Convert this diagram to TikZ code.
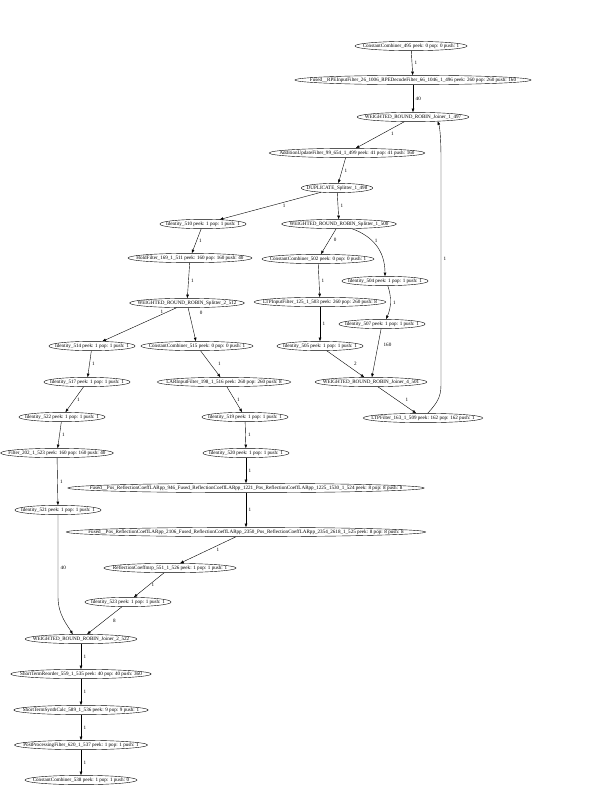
\documentclass[tikz,border=0pt]{standalone}
\usepackage{fontspec}
\setmainfont{Liberation Serif}
\usetikzlibrary{shapes.geometric,arrows.meta}
\newbox\gvbox
\newcommand\gvsize{\fontsize{5.1pt}{6pt}\selectfont}

\begin{document}
\begin{tikzpicture}[x=1pt, y=-1pt,
    blob/.style={draw, ellipse, line width=0.4pt, inner xsep=1pt, inner ysep=0.95pt,
        text height=3.5pt, text depth=1.2pt, font=\gvsize,
        execute at begin node={\setbox\gvbox=\hbox\bgroup},
        execute at end node={\egroup\hbox to 0.8\wd\gvbox{\hss\box\gvbox\hss}}},
    flow/.style={-{Triangle[length=3.5pt,width=2.6pt]}, line width=0.4pt},
    lab/.style={right, inner sep=2.5pt, font=\gvsize}]
    \useasboundingbox (0,0) rectangle (612,792);

    % top of the graph
    \node [blob] (cc495) at (411,46) {ConstantCombiner\_495 peek: 0 pop: 0 push: 1};
    \node [blob] (fu496) at (413,80) {Fused\_\_RPEInputFilter\_26\_1006\_RPEDecodeFilter\_66\_1046\_1\_496 peek: 260 pop: 260 push: 160};
    \node [blob] (wj497) at (413,117) {WEIGHTED\_ROUND\_ROBIN\_Joiner\_1\_497};
    \node [blob] (au499) at (347,153) {AdditionUpdateFilter\_99\_654\_1\_499 peek: 41 pop: 41 push: 160};
    \node [blob] (ds498) at (337,188) {DUPLICATE\_Splitter\_1\_498};
    \node [blob] (id510) at (203,224) {Identity\_510 peek: 1 pop: 1 push: 1};
    \node [blob] (ws500) at (339,224) {WEIGHTED\_ROUND\_ROBIN\_Splitter\_1\_500};
    \node [blob] (hf511) at (190,258) {HoldFilter\_169\_1\_511 peek: 160 pop: 160 push: 40};
    \node [blob] (cc502) at (318,259) {ConstantCombiner\_502 peek: 0 pop: 0 push: 1};
    \node [blob] (id504) at (385,281) {Identity\_504 peek: 1 pop: 1 push: 1};
    \node [blob] (lt503) at (320,302) {LTPInputFilter\_125\_1\_503 peek: 260 pop: 260 push: 8};
    \node [blob] (ws512) at (187,303) {WEIGHTED\_ROUND\_ROBIN\_Splitter\_2\_512};
    \node [blob] (id507) at (382,324) {Identity\_507 peek: 1 pop: 1 push: 1};
    \node [blob] (id514) at (92,346) {Identity\_514 peek: 1 pop: 1 push: 1};
    \node [blob] (cc515) at (197,346) {ConstantCombiner\_515 peek: 0 pop: 0 push: 1};
    \node [blob] (id505) at (320,346) {Identity\_505 peek: 1 pop: 1 push: 1};
    \node [blob] (id517) at (87,382) {Identity\_517 peek: 1 pop: 1 push: 1};
    \node [blob] (la516) at (224,382) {LARInputFilter\_198\_1\_516 peek: 260 pop: 260 push: 8};
    \node [blob] (wj501) at (371,382) {WEIGHTED\_ROUND\_ROBIN\_Joiner\_4\_501};
    \node [blob] (lf509) at (423,418) {LTPFilter\_163\_1\_509 peek: 162 pop: 162 push: 1};
    \node [blob] (id522) at (62,417) {Identity\_522 peek: 1 pop: 1 push: 1};
    \node [blob] (id519) at (245,417) {Identity\_519 peek: 1 pop: 1 push: 1};
    \node [blob] (fi523) at (57,453) {Filter\_202\_1\_523 peek: 160 pop: 160 push: 40};
    \node [blob] (id520) at (246,453) {Identity\_520 peek: 1 pop: 1 push: 1};
    \node [blob] (fr524) at (246,488) {Fused\_\_Pos\_ReflectionCoeffLARpp\_946\_Fused\_ReflectionCoeffLARpp\_1221\_Pos\_ReflectionCoeffLARpp\_1225\_1530\_1\_524 peek: 8 pop: 8 push: 8};
    \node [blob] (id521) at (58,510) {Identity\_521 peek: 1 pop: 1 push: 1};
    \node [blob] (fr525) at (246,532) {Fused\_\_Pos\_ReflectionCoeffLARpp\_2106\_Fused\_ReflectionCoeffLARpp\_2350\_Pos\_ReflectionCoeffLARpp\_2354\_2618\_1\_525 peek: 8 pop: 8 push: 8};
    \node [blob] (rc526) at (170,568) {ReflectionCoeffmrp\_551\_1\_526 peek: 1 pop: 1 push: 1};
    \node [blob] (id523) at (128,602) {Identity\_523 peek: 1 pop: 1 push: 1};
    \node [blob] (wj522) at (81,639) {WEIGHTED\_ROUND\_ROBIN\_Joiner\_2\_522};
    \node [blob] (sr535) at (81,674) {ShortTermReorder\_559\_1\_535 peek: 40 pop: 40 push: 360};
    \node [blob] (ss536) at (81,710) {ShortTermSynthCalc\_589\_1\_536 peek: 9 pop: 9 push: 1};
    \node [blob] (pp537) at (81,745) {PostProcessingFilter\_620\_1\_537 peek: 1 pop: 1 push: 1};
    \node [blob] (cc538) at (81,780) {ConstantCombiner\_538 peek: 1 pop: 1 push: 0};

    % bend points
    \coordinate (rt1) at (441,385);
    \coordinate (rt2) at (441,160);
    \coordinate (lb1) at (58,597);

    % plain edges
    \foreach \a/\b/\t in {cc495/fu496/1, fu496/wj497/40, au499/ds498/1, ds498/ws500/1,
            id510/hf511/1, hf511/ws512/1, cc502/lt503/1, lt503/id505/1, id514/id517/1,
            id517/id522/1, la516/id519/1, id522/fi523/1, id519/id520/1, fi523/id521/1,
            id520/fr524/1, fr524/fr525/1, rc526/id523/1, wj522/sr535/1, sr535/ss536/1,
            ss536/pp537/1, pp537/cc538/1}
        \draw [flow] (\a) -- node [lab] {\t} (\b);

    \draw [flow] (wj497) -- node [lab, pos=0.45, xshift=6pt] {1} (au499);
    \draw [flow] (ds498) -- node [lab, xshift=10pt] {1} (id510);
    \draw [flow] (ws500) -- node [lab, pos=0.45, xshift=2pt] {0} (cc502);
    \draw [flow] (ws500.-20) .. controls (372,236) and (385,250) .. node [lab, pos=0.4] {1} (id504.north);
    \draw [flow] (id504.-60) .. controls (392,298) and (391,308) .. node [lab] {1} (id507.50);
    \draw [flow] (ws512) -- node [lab, pos=0.25, anchor=south west] {1} (id514);
    \draw [flow] (ws512) -- node [lab, pos=0.15, xshift=8pt] {0} (cc515);
    \draw [flow] (cc515) -- node [lab, xshift=5pt] {1} (la516);
    \draw [flow] (id505) -- node [lab, xshift=6pt] {2} (wj501);
    \draw [flow] (id507) -- node [lab, pos=0.34, xshift=3pt] {160} (wj501);
    \draw [flow] (wj501) -- node [lab, xshift=6pt] {1} (lf509);
    \draw [flow] (lf509.45) .. controls (436,404) and (441,398) .. (rt1) -- node [lab, pos=0.56] {1} (rt2) .. controls (441,140) and (440,128) .. (wj497.-10);
    \draw [flow] (fr525) -- node [lab, xshift=6pt] {1} (rc526);
    \draw [flow] (id523) -- node [lab, xshift=6pt] {8} (wj522);
    \draw [flow] (id521) -- node [lab, pos=0.65] {40} (lb1) .. controls (58,615) and (68,626) .. (wj522.150);
\end{tikzpicture}
\end{document}
